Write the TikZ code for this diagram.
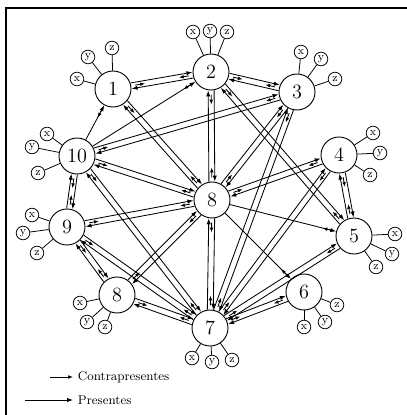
\documentclass[tikz,border=0pt]{standalone}
\usepackage{tikz}
\usetikzlibrary{calc,arrows.meta}
\tikzset{
    party/.style={draw,circle,line width=0.65pt,minimum size=0.9cm,inner sep=0pt,font=\Large},
    sat/.style={draw,circle,line width=0.55pt,minimum size=0.34cm,inner sep=0pt,font=\footnotesize},
    pres/.style={-{Latex[length=4.2pt,width=3pt]},line width=0.6pt},
    contra/.style={-{Latex[length=3.4pt,width=2.6pt]},line width=0.6pt},
    legendtext/.style={anchor=west,font=\small}
}
% gift and counter-gift between two parties
\newcommand{\swap}[2]{%
    \coordinate (ga) at ($(#1)!0.46cm!(#2)$);
    \coordinate (gb) at ($(#2)!0.46cm!(#1)$);
    \draw[pres] ($(ga)!2.1pt!90:(gb)$) -- ($(gb)!2.1pt!-90:(ga)$);
    \draw[pres] ($(gb)!2.1pt!90:(ga)$) -- ($(ga)!2.1pt!-90:(gb)$);
    \draw[contra] ($(ga)!3pt!(gb)$) -- ($(ga)!10pt!(gb)$);
    \draw[contra] ($(gb)!3pt!(ga)$) -- ($(gb)!10pt!(ga)$);
}
% one-way gift
\newcommand{\give}[2]{%
    \coordinate (ga) at ($(#1)!0.46cm!(#2)$);
    \coordinate (gb) at ($(#2)!0.46cm!(#1)$);
    \draw[pres] (ga) -- (gb);
    \draw[contra] ($(gb)!3pt!(ga)$) -- ($(gb)!10pt!(ga)$);
}
\begin{document}
\begin{tikzpicture}[x=0.025cm,y=-0.025cm]
    \useasboundingbox (0,0) rectangle (407,415);
    \draw[line width=0.9pt] (6,415) -- (6,8) -- (407,8);

    \node[party] (p1) at (113,89) {1};
    \node[party] (p2) at (211,72) {2};
    \node[party] (p3) at (297,92) {3};
    \node[party] (p4) at (339,155) {4};
    \node[party] (p5) at (354,236) {5};
    \node[party] (p6) at (304,292) {6};
    \node[party] (p7) at (210,328) {7};
    \node[party] (p8) at (117,295) {8};
    \node[party] (p9) at (67,227) {9};
    \node[party] (p10) at (77,156) {10};
    \node[party] (c) at (212,200) {8};

    % x, y, z of every party
    \foreach \p/\l/\px/\py in {
        p1/x/77/79, p1/y/88/57, p1/z/112/48,
        p2/x/193/32, p2/y/210/31, p2/z/227/32,
        p3/x/301/52, p3/y/321/59, p3/z/335/79,
        p4/x/373/133, p4/y/380/153, p4/z/370/175,
        p5/x/395/234, p5/y/392/254, p5/z/376/267,
        p6/x/304/327, p6/y/325/322, p6/z/337/305,
        p7/x/192/358, p7/y/212/362, p7/z/232/360,
        p8/x/80/303, p8/y/87/322, p8/z/105/327,
        p9/x/32/215, p9/y/23/233, p9/z/37/253,
        p10/x/47/134, p10/y/32/147, p10/z/38/173}
    {
        \node[sat] (\p\l) at (\px,\py) {\l};
        \draw[line width=0.55pt] (\p) -- (\p\l);
    }

    \foreach \a/\b in {p1/p2, p2/p3, p1/c, p2/c, p3/c, p4/c, p10/c, p9/c, p8/c, c/p7,
        p3/p10, p2/p5, p3/p7, p4/p5, p4/p7, p5/p7, p6/p7, p10/p9, p9/p8, p8/p7,
        p9/p7, p10/p7}
        {\swap{\a}{\b}}
    \give{p10}{p1}
    \give{p10}{p2}
    \give{c}{p5}
    \give{c}{p6}

    % legend
    \coordinate (ka) at (50,377);
    \node[legendtext] (kc) at (73,377) {Contrapresentes};
    \draw[contra] (ka) -- (kc.west);
    \coordinate (kb) at (25,400);
    \node[legendtext] (kp) at (73,400) {Presentes};
    \draw[pres] (kb) -- (kp.west);
\end{tikzpicture}
\end{document}
